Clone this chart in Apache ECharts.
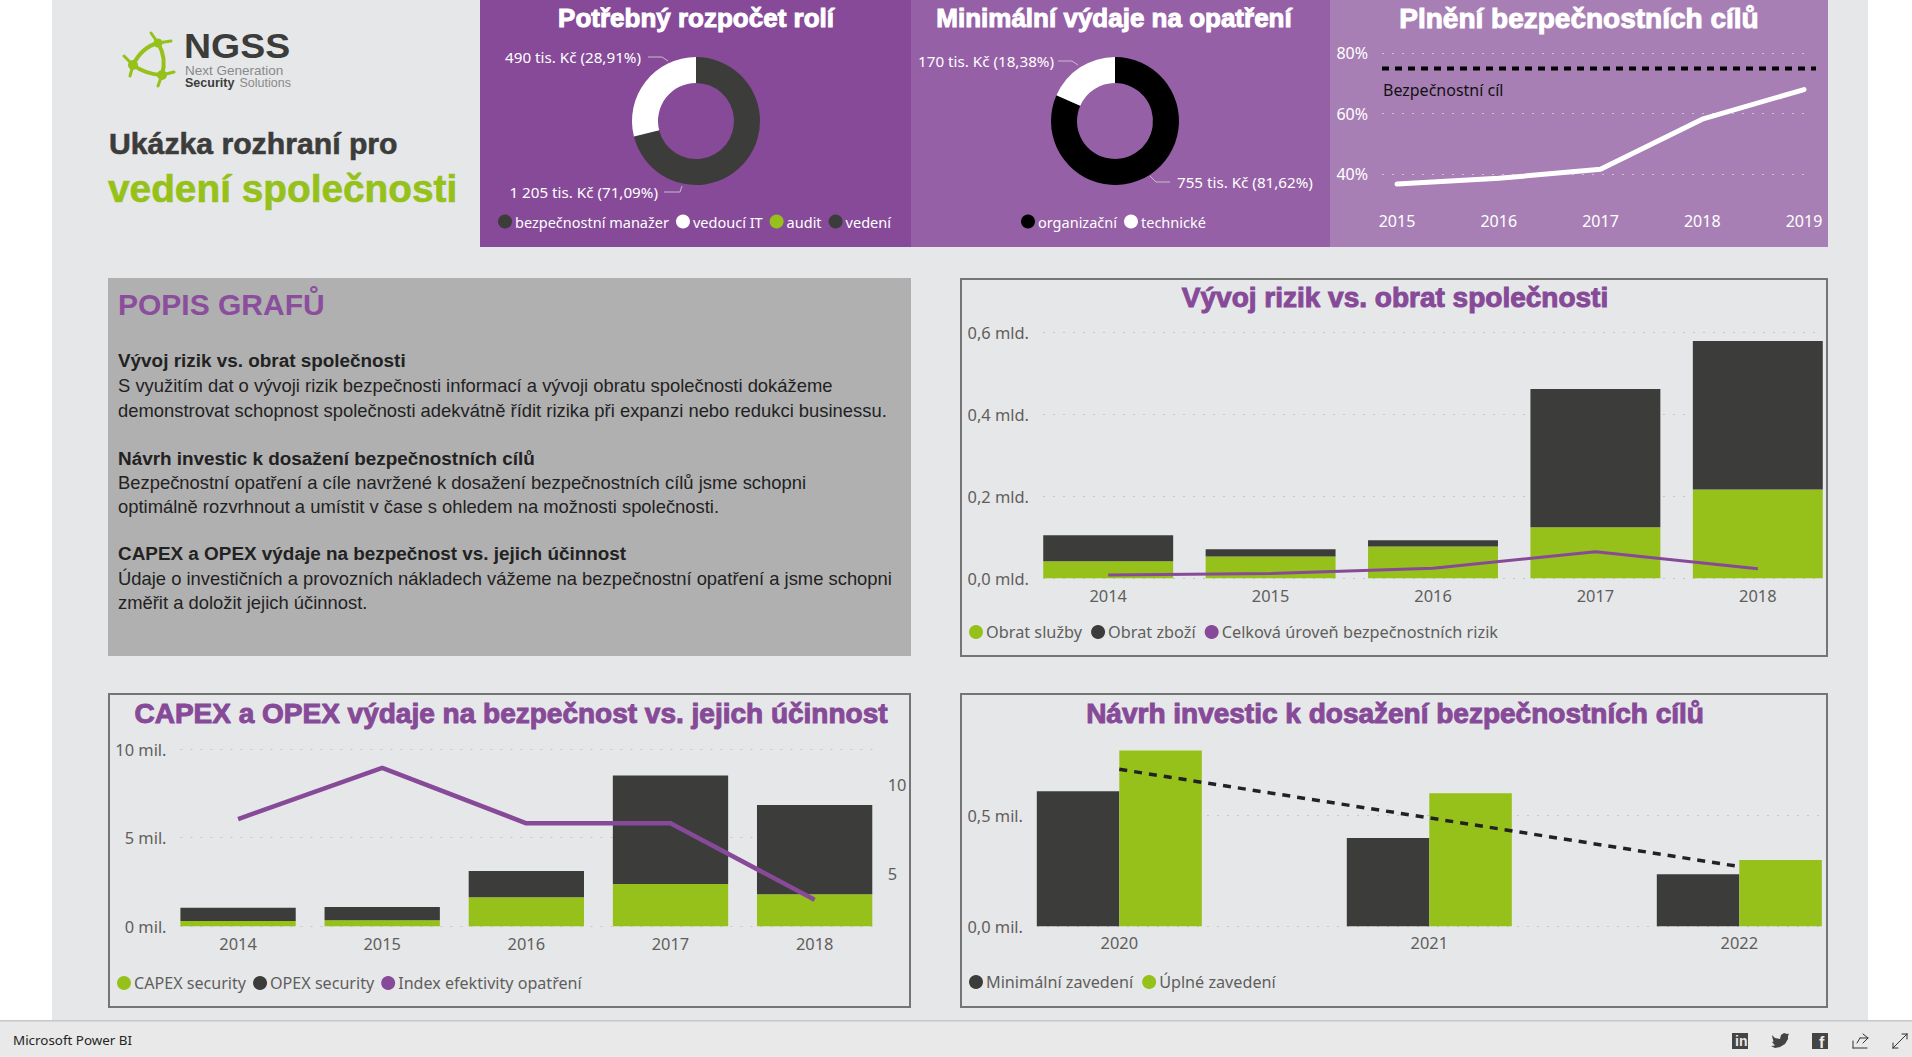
<!DOCTYPE html>
<html lang="cs">
<head>
<meta charset="utf-8">
<title>NGSS</title>
<style>html,body{margin:0;padding:0;background:#fff;overflow:hidden}#c{width:1912px;height:1057px}</style>
<script src="https://cdn.jsdelivr.net/npm/echarts@6/dist/echarts.min.js"></script>
</head>
<body>
<div id="c"></div>
<script>
// ---- data ----
const rolesNames = ['bezpečnostní manažer', 'vedoucí IT', 'audit', 'vedení'];
const rolesValues = [1205, 490, 0, 0];
const rolesLabels = ['1 205 tis. Kč (71,09%)', '490 tis. Kč (28,91%)', '', ''];
const measureNames = ['organizační', 'technické'];
const measureValues = [755, 170];
const measureLabels = ['755 tis. Kč (81,62%)', '170 tis. Kč (18,38%)'];

const goalYears = ['2015', '2016', '2017', '2018', '2019'];
const goalValues = [36.7, 38.6, 41.6, 58.2, 68];
const goalTarget = [75, 75];
const goalTicks = [40, 60, 80];

const riskYears = ['2014', '2015', '2016', '2017', '2018'];
const riskServices = [0.0415, 0.053, 0.0774, 0.1246, 0.2167];
const riskGoods = [0.0635, 0.0178, 0.0154, 0.3379, 0.3633];
const riskLevel = [0.008, 0.012, 0.0244, 0.065, 0.0236];

const capexYears = ['2014', '2015', '2016', '2017', '2018'];
const capexValues = [0.30, 0.338, 1.636, 2.387, 1.805];
const opexValues = [0.753, 0.752, 1.484, 6.113, 5.035];
const indexValues = [8.05, 10.93, 7.81, 7.81, 3.5];
const indexTicks = [5, 10];

const investYears = ['2020', '2021', '2022'];
const investMin = [0.61, 0.399, 0.235];
const investFull = [0.795, 0.601, 0.2997];
const investTrend = [0.7096, 0.49, 0.27];
const investTicks = [0, 0.5];

// ---- style ----
const DARK = '#3c3c3a', GREEN = '#95c11a', PURPLE = '#864a98', GREY = '#605e5c';
const SANS = '"Liberation Sans", Arial, sans-serif';
const UI = '"Noto Sans", "Open Sans", sans-serif';
const AXIS_SIZE = 16.4;
const dots = {show: true, lineStyle: {type: [2, 8], color: '#c6c6c6', width: 1}};

const grids = [], xAxes = [], yAxes = [], series = [], titles = [], legends = [];
function addGrid(left, right, top, height) {
  grids.push({left, top, width: right - left, height});
  return grids.length - 1;
}
// A grid that only holds the gridlines and left labels
function guide(left, right, top, height, y, color) {
  const g = addGrid(left, right, top, height);
  xAxes.push({type: 'category', gridIndex: g, show: false, data: ['']});
  yAxes.push(Object.assign({
    type: 'value', gridIndex: g, axisLine: {show: false}, axisTick: {show: false}, splitLine: dots
  }, y, {
    axisLabel: Object.assign({color: color || GREY, fontFamily: UI, fontSize: AXIS_SIZE, margin: 14}, y.axisLabel)
  }));
  if (y.ticks) {
    const last = yAxes[yAxes.length - 1];
    last.axisTick = {show: false, customValues: y.ticks};
    last.axisLabel.customValues = y.ticks;
    last.splitLine = dots;
  }
}
function dataAxes(left, right, top, height, cats, min, max, labelColor, margin, boundaryGap, size) {
  const g = addGrid(left, right, top, height);
  const xi = xAxes.length, yi = yAxes.length;
  xAxes.push({type: 'category', gridIndex: g, data: cats, boundaryGap: boundaryGap !== false,
    axisLine: {show: false}, axisTick: {show: false},
    axisLabel: {color: labelColor || GREY, fontFamily: UI, fontSize: size || AXIS_SIZE, margin: margin || 9, interval: 0}});
  yAxes.push({type: 'value', gridIndex: g, show: false, min, max, splitLine: {show: false}});
  return {xi, yi};
}
function chartTitle(text, x, y, color, size) {
  titles.push({text, left: x, top: y, padding: 0, textAlign: 'center', textVerticalAlign: 'middle',
    textStyle: {color, fontFamily: SANS, fontWeight: 'bold', fontSize: size,
      textBorderColor: color, textBorderWidth: 1}});
}
function legend(names, x, y, color, size, gap) {
  legends.push({show: true, data: names, left: x, top: y - 8, icon: 'circle', itemWidth: 14, itemHeight: 14,
    itemGap: gap || 7, selectedMode: false, padding: 0,
    textStyle: {color, fontFamily: UI, fontSize: size, padding: [0, 0, 0, -2]}});
}
function donut(name, names, values, labels, colors, cx, layouts) {
  series.push({name, type: 'pie', center: [cx, 121], radius: [38, 64], startAngle: 90, animation: false,
    silent: true,
    data: names.map((n, i) => ({
      name: n, value: values[i], itemStyle: {color: colors[i]},
      label: {show: !!labels[i], formatter: labels[i], color: '#fff', fontFamily: UI, fontSize: 15.2},
      labelLine: {show: !!labels[i], lineStyle: {color: '#c8bccc', width: 1}}
    })),
    labelLayout: p => layouts[p.dataIndex] || {}
  });
}

// ---- KPI panels ----
chartTitle('Potřebný rozpočet rolí', 696, 18, '#fff', 26);
chartTitle('Minimální výdaje na opatření', 1114, 18, '#fff', 26);
chartTitle('Plnění bezpečnostních cílů', 1579, 18, '#fff', 28);

donut('Potřebný rozpočet rolí', rolesNames, rolesValues, rolesLabels, [DARK, '#ffffff', GREEN, DARK], 696, [
  {x: 658, y: 192, align: 'right', verticalAlign: 'middle', labelLinePoints: [[664, 192], [680, 192], [682, 186]]},
  {x: 641, y: 57, align: 'right', verticalAlign: 'middle', labelLinePoints: [[648, 57], [662, 57], [668, 61]]}
]);
donut('Minimální výdaje na opatření', measureNames, measureValues, measureLabels, ['#000000', '#ffffff'], 1115, [
  {x: 1177, y: 182, align: 'left', verticalAlign: 'middle', labelLinePoints: [[1170, 182], [1156, 182], [1150, 176]]},
  {x: 1054, y: 61, align: 'right', verticalAlign: 'middle', labelLinePoints: [[1058, 61], [1072, 61], [1078, 65]]}
]);
legend(rolesNames, 498, 222, '#fff', 14.5);
legend(measureNames, 1021, 222, '#fff', 14.5);

// goal line
guide(1382, 1810, 53.3, 151, {min: 30, max: 80, ticks: goalTicks, axisLabel: {formatter: v => v + '%', color: '#fff', fontSize: 16}}, '#fff');
{
  const g = addGrid(1382, 1816, 53.3, 151);
  const xi = xAxes.length, yi = yAxes.length;
  xAxes.push({type: 'category', gridIndex: g, show: false, boundaryGap: false, data: ['a', 'b']});
  yAxes.push({type: 'value', gridIndex: g, show: false, min: 30, max: 80});
  series.push({name: 'Bezpečnostní cíl', type: 'line', xAxisIndex: xi, yAxisIndex: yi, data: goalTarget, showSymbol: false,
    silent: true, animation: false, lineStyle: {color: '#000', width: 4, type: [7, 6]}});
  const d = dataAxes(1397, 1804, 53.3, 151, goalYears, 30, 80, '#fff', 9, false, 16);
  series.push({name: 'Plnění', type: 'line', xAxisIndex: d.xi, yAxisIndex: d.yi, data: goalValues, showSymbol: false,
    silent: true, animation: false, lineStyle: {color: '#fff', width: 5, cap: 'round'}});
}

// ---- risk vs turnover ----
chartTitle('Vývoj rizik vs. obrat společnosti', 1395, 297, PURPLE, 28);
guide(1043, 1822, 332.7, 245.6, {min: 0, max: 0.6, interval: 0.2,
  axisLabel: {formatter: v => v.toFixed(1).replace('.', ',') + ' mld.'}});
{
  const d = dataAxes(1027, 1839, 332.7, 245.6, riskYears, 0, 0.6);
  const base = {type: 'bar', stack: 'r', xAxisIndex: d.xi, yAxisIndex: d.yi, barCategoryGap: '20%', silent: true, animation: false};
  series.push(Object.assign({name: 'Obrat služby', data: riskServices, itemStyle: {color: GREEN}}, base));
  series.push(Object.assign({name: 'Obrat zboží', data: riskGoods, itemStyle: {color: DARK}}, base));
  series.push({name: 'Celková úroveň bezpečnostních rizik', type: 'line', xAxisIndex: d.xi, yAxisIndex: d.yi, data: riskLevel,
    showSymbol: false, silent: true, animation: false, itemStyle: {color: PURPLE}, lineStyle: {color: PURPLE, width: 3}, z: 5});
}
legend(['Obrat služby', 'Obrat zboží', 'Celková úroveň bezpečnostních rizik'], 969, 632, GREY, 16.3, 9);

// ---- capex / opex ----
chartTitle('CAPEX a OPEX výdaje na bezpečnost vs. jejich účinnost', 511, 713, PURPLE, 28);
guide(180.5, 872.5, 749, 177.3, {min: 0, max: 10, interval: 5, axisLabel: {formatter: v => v + ' mil.'}});
{
  const d = dataAxes(166, 886.7, 749, 177.3, capexYears, 0, 10);
  const ri = yAxes.length;
  yAxes.push({type: 'value', gridIndex: grids.length - 1, position: 'right', min: 2, max: 12,
    axisLine: {show: false}, splitLine: {show: false},
    axisTick: {show: false, customValues: indexTicks},
    axisLabel: {customValues: indexTicks, color: GREY, fontFamily: UI, fontSize: AXIS_SIZE, margin: 1}});
  const base = {type: 'bar', stack: 'c', xAxisIndex: d.xi, yAxisIndex: d.yi, barCategoryGap: '20%', silent: true, animation: false};
  series.push(Object.assign({name: 'CAPEX security', data: capexValues, itemStyle: {color: GREEN}}, base));
  series.push(Object.assign({name: 'OPEX security', data: opexValues, itemStyle: {color: DARK}}, base));
  series.push({name: 'Index efektivity opatření', type: 'line', xAxisIndex: d.xi, yAxisIndex: ri, data: indexValues,
    showSymbol: false, silent: true, animation: false, itemStyle: {color: PURPLE}, lineStyle: {color: PURPLE, width: 4.5}, z: 5});
}
legend(['CAPEX security', 'OPEX security', 'Index efektivity opatření'], 117, 983, GREY, 16.1, 7);

// ---- investments ----
chartTitle('Návrh investic k dosažení bezpečnostních cílů', 1395, 713, PURPLE, 28);
guide(1037, 1822, 749.3, 177, {min: 0, max: 0.8, ticks: investTicks,
  axisLabel: {formatter: v => v.toFixed(1).replace('.', ',') + ' mil.'}});
{
  const d = dataAxes(964.3, 1894.3, 749.3, 177, investYears, 0, 0.8, GREY, 8);
  const base = {type: 'bar', xAxisIndex: d.xi, yAxisIndex: d.yi, barWidth: 82.5, barGap: 0, silent: true, animation: false};
  series.push(Object.assign({name: 'Minimální zavedení', data: investMin, itemStyle: {color: DARK}}, base));
  series.push(Object.assign({name: 'Úplné zavedení', data: investFull, itemStyle: {color: GREEN}}, base));
  series.push({name: 'Trend', type: 'line', xAxisIndex: d.xi, yAxisIndex: d.yi, data: investTrend, showSymbol: false,
    silent: true, animation: false, lineStyle: {color: '#222', width: 3.5, type: [8, 7]}, z: 5});
}
legend(['Minimální zavedení', 'Úplné zavedení'], 969, 982, GREY, 16.2, 9);

// ---- static page furniture ----
const rect = (x, y, w, h, fill, extra) => Object.assign({type: 'rect', z: -1, silent: true,
  shape: {x, y, width: w, height: h}, style: {fill}}, extra);
const frame = (x, y, w, h) => ({type: 'rect', z: -1, silent: true, shape: {x, y, width: w, height: h},
  style: {fill: 'none', stroke: '#757575', lineWidth: 2}});
const txt = (text, x, y, size, fill, weight, family, border) => ({type: 'text', z: 6, silent: true, x, y,
  style: Object.assign({text, fill, font: (weight || 'normal') + ' ' + size + 'px ' + (family || SANS), verticalAlign: 'middle', align: 'left'},
    border ? {stroke: fill, lineWidth: border} : {})});
const seg = (x1, y1, x2, y2, stroke, w) => ({type: 'line', z: 5, silent: true, shape: {x1, y1, x2, y2},
  style: {stroke, lineWidth: w, lineCap: 'round'}});
const curve = (x1, y1, cx, cy, x2, y2) => ({type: 'bezierCurve', z: 5, silent: true,
  shape: {x1, y1, x2, y2, cpx1: cx, cpy1: cy}, style: {stroke: GREEN, lineWidth: 4, fill: 'none'}});
const dot = (cx, cy, r, fill) => ({type: 'circle', z: 5, silent: true, shape: {cx, cy, r}, style: {fill}});

const descLines = [
  ['Vývoj rizik vs. obrat společnosti', 360, 'bold'],
  ['S využitím dat o vývoji rizik bezpečnosti informací a vývoji obratu společnosti dokážeme', 385],
  ['demonstrovat schopnost společnosti adekvátně řídit rizika při expanzi nebo redukci businessu.', 410],
  ['Návrh investic k dosažení bezpečnostních cílů', 458, 'bold'],
  ['Bezpečnostní opatření a cíle navržené k dosažení bezpečnostních cílů jsme schopni', 482],
  ['optimálně rozvrhnout a umístit v čase s ohledem na možnosti společnosti.', 506],
  ['CAPEX a OPEX výdaje na bezpečnost vs. jejich účinnost', 553, 'bold'],
  ['Údaje o investičních a provozních nákladech vážeme na bezpečnostní opatření a jsme schopni', 578],
  ['změřit a doložit jejich účinnost.', 602]
];

const elements = [
  rect(52, 0, 1816, 1021, '#e6e7e9'),
  rect(480, 0, 431, 247, '#864a98'),
  rect(911, 0, 419, 247, '#9560a5'),
  rect(1330, 0, 498, 247, '#a87fb5'),
  rect(108, 278, 803, 378, '#b0b0b0'),
  frame(961, 279, 866, 377),
  frame(109, 694, 801, 313),
  frame(961, 694, 866, 313),
  rect(0, 1021, 1912, 36, '#e9e9e9'),
  rect(0, 1020, 1912, 1.5, '#c8c8c8'),

  txt('Ukázka rozhraní pro', 109, 143, 30.2, '#3c3c3a', 'bold', SANS, 0.6),
  txt('vedení společnosti', 108, 188, 38.8, GREEN, 'bold', SANS, 0.6),
  txt('POPIS GRAFŮ', 118, 304, 30, '#8a4e9c', 'bold'),
  txt('Bezpečnostní cíl', 1383, 90, 16, '#111', 'normal', UI),

  // logo
  curve(133, 65, 142, 47, 158, 43),
  curve(133, 65, 145, 74, 162, 75),
  curve(158, 43, 167, 58, 162, 75),
  dot(158, 43, 4.5, GREEN), dot(133, 65, 5, GREEN), dot(162, 75, 5, GREEN),
  seg(158, 43, 151, 33, GREEN, 3), seg(158, 43, 171, 41, GREEN, 3),
  seg(133, 65, 124, 56, GREEN, 3), seg(133, 65, 130, 76, GREEN, 3),
  seg(162, 75, 158, 86, GREEN, 3), seg(162, 75, 174, 72, GREEN, 3),
  Object.assign(txt('NGSS', 184, 46, 35, '#3c3c3a', 'bold'), {scaleX: 1.07}),
  Object.assign(txt('Next Generation', 185, 70.2, 13, '#8a8a8a'), {scaleX: 1.04}),
  txt('Security', 185, 83, 12.5, '#3c3c3a', 'bold'),
  txt('Solutions', 239.5, 83, 12.5, '#8a8a8a'),

  // footer
  txt('Microsoft Power BI', 13, 1040, 13.4, '#252423', 'normal', UI),
  rect(1732, 1033, 16, 16, '#444', {z: 6}),
  txt('in', 1735, 1041, 14, '#e9e9e9', 'bold'),
  {type: 'polygon', z: 6, silent: true, style: {fill: '#444'}, shape: {points: [
    [1772, 1035], [1775, 1038], [1780, 1039], [1781, 1035], [1784, 1033], [1787, 1034], [1789, 1033.5], [1788, 1036],
    [1788, 1039], [1785, 1044], [1780, 1047], [1775, 1048], [1771, 1046], [1775, 1045.5], [1772, 1042], [1773.5, 1041.5], [1772.5, 1038]
  ]}},
  rect(1812, 1033, 16, 16, '#444', {z: 6}),
  txt('f', 1819, 1042, 16, '#e9e9e9', 'bold'),
  seg(1853, 1041, 1853, 1048, '#333', 1), seg(1853, 1048, 1867, 1048, '#333', 1),
  seg(1857, 1043, 1860, 1038, '#333', 1), seg(1860, 1038, 1867, 1038, '#333', 1),
  seg(1863, 1034, 1868, 1038, '#333', 1), seg(1868, 1038, 1863, 1043, '#333', 1),
  seg(1893, 1048, 1907, 1034, '#333', 1),
  seg(1893, 1048, 1893, 1043, '#333', 1), seg(1893, 1048, 1898, 1048, '#333', 1),
  seg(1907, 1034, 1902, 1034, '#333', 1), seg(1907, 1034, 1907, 1039, '#333', 1)
].concat(descLines.map(l => txt(l[0], 118, l[1], l[2] ? 18.9 : 18.4, '#222', l[2] || 'normal')));

const chart = echarts.init(document.getElementById('c'), null, {renderer: 'svg', width: 1912, height: 1057});
chart.setOption({
  animation: false,
  backgroundColor: '#ffffff',
  tooltip: {show: false},
  title: titles,
  legend: legends,
  grid: grids,
  xAxis: xAxes,
  yAxis: yAxes,
  series: series,
  graphic: {elements}
});
</script>
</body>
</html>
